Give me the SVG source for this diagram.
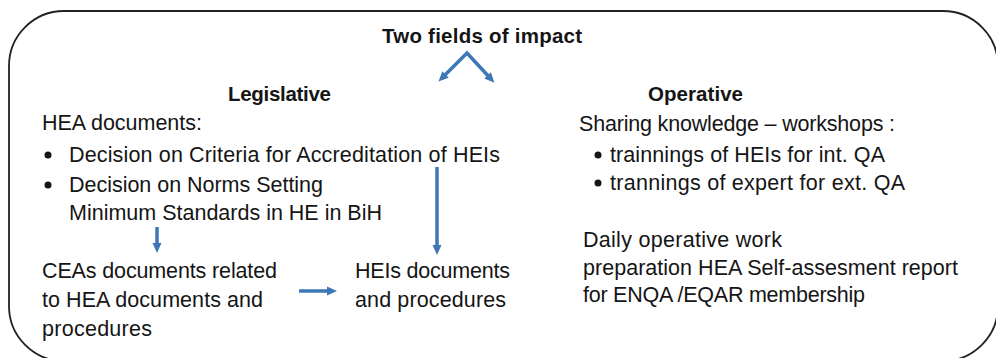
<svg xmlns="http://www.w3.org/2000/svg" width="996" height="358" viewBox="0 0 996 358">
<style>
text{font-family:"Liberation Sans",Arial,sans-serif;font-size:21.5px;fill:#151515}
.b{font-weight:bold;font-size:20.5px}
.bul{fill:#151515}
.arr{fill:none;stroke:#3d77b6;stroke-width:3.5;stroke-linejoin:miter}
</style>
<defs>
<marker id="ah" markerUnits="userSpaceOnUse" markerWidth="12" markerHeight="12" viewBox="0 0 12 12" refX="6" refY="6" orient="auto">
<path d="M1,1.5 L11,6 L1,10.5 Z" fill="#3d77b6"/>
</marker>
<marker id="ahs" markerUnits="userSpaceOnUse" markerWidth="12" markerHeight="12" viewBox="0 0 12 12" refX="6" refY="6" orient="auto-start-reverse">
<path d="M1,1.5 L11,6 L1,10.5 Z" fill="#3d77b6"/>
</marker>
</defs>
<rect id="frame" x="9" y="11" width="989" height="350" rx="55" ry="55" fill="#fff" stroke="#222" stroke-width="1.8"/>
<g id="title"><text class="b" x="382" y="43" textLength="200">Two fields of impact</text></g>
<g id="legislative"><text class="b" x="228" y="101" textLength="103">Legislative</text></g>
<g id="operative"><text class="b" x="648" y="101" textLength="95">Operative</text></g>
<g id="hea-docs">
<text x="42" y="130" textLength="160">HEA documents:</text>
<circle class="bul" cx="48" cy="155" r="3.5"/>
<text x="69" y="162" textLength="431">Decision on Criteria for Accreditation of HEIs</text>
<circle class="bul" cx="48" cy="185" r="3.5"/>
<text x="69" y="192" textLength="254">Decision on Norms Setting</text>
<text x="69" y="220" textLength="313">Minimum Standards in HE in BiH</text>
</g>
<g id="cea-docs">
<text x="42" y="278" textLength="235">CEAs documents related</text>
<text x="42" y="307" textLength="221">to HEA documents and</text>
<text x="42" y="336" textLength="110">procedures</text>
</g>
<g id="hei-docs">
<text x="355" y="278" textLength="155">HEIs documents</text>
<text x="355" y="307" textLength="151">and procedures</text>
</g>
<g id="sharing">
<text x="579" y="131" textLength="316">Sharing knowledge – workshops :</text>
<circle class="bul" cx="598" cy="155" r="3.5"/>
<text x="610" y="162" textLength="275">trainnings of HEIs for int. QA</text>
<circle class="bul" cx="598" cy="183" r="3.5"/>
<text x="610" y="190" textLength="295">trannings of expert for ext. QA</text>
</g>
<g id="daily-work">
<text x="583" y="247" textLength="199">Daily operative work</text>
<text x="583" y="275" textLength="375">preparation HEA Self-assesment report</text>
<text x="583" y="302" textLength="282">for ENQA /EQAR membership</text>
</g>
<g id="connectors">
<path class="arr" d="M442,78 L467,53 L491,79" marker-start="url(#ahs)" marker-end="url(#ah)"/>
<path class="arr" d="M157,227 L157,248" marker-end="url(#ah)"/>
<path class="arr" d="M437,167 L437,250" marker-end="url(#ah)"/>
<path class="arr" d="M299,291 L332,291" marker-end="url(#ah)"/>
</g>
</svg>
